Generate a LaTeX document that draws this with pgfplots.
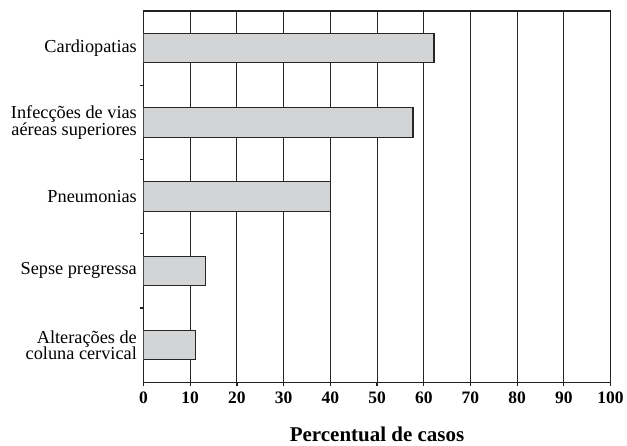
\documentclass[border=0pt]{standalone}
\usepackage{pgfplots}
\pgfplotsset{compat=1.18}
\usepackage{fontspec}
\setmainfont{Liberation Serif}
\definecolor{barfill}{HTML}{D3D4D6}
\definecolor{axisgray}{HTML}{222222}
\begin{document}
\begin{tikzpicture}
\begin{axis}[
  scale only axis,
  width=467.6bp, height=371.7bp,
  xbar, bar width=29.5bp,
  xmin=0, xmax=100, ymin=-0.5, ymax=4.5,
  xtick={0,10,...,100},
  xtick pos=bottom, ytick pos=left,
  xmajorgrids,
  grid style={draw=black!85, line width=0.9bp},
  axis line style={draw=axisgray, line width=1.4bp},
  tick style={draw=axisgray, line width=1.2bp},
  tick align=outside,
  major tick length=4bp,
  ytick={0.5,1.5,2.5,3.5},
  yticklabels={},
  extra y ticks={0,1,2,3,4},
  extra y tick labels={{Alterações de\\coluna cervical},{Sepse pregressa},{Pneumonias},{Infecções de vias\\aéreas superiores},{Cardiopatias}},
  extra y tick style={major tick length=0pt, yticklabel style={align=right, font=\fontsize{18.3bp}{16.7bp}\selectfont, inner xsep=0pt, xshift=-6.5bp}},
  xticklabel style={font=\bfseries\fontsize{17.5bp}{18bp}\selectfont, yshift=-2bp},
  /pgf/number format/assume math mode=true,
  xlabel={\bfseries\fontsize{21bp}{24bp}\selectfont Percentual de casos},
  xlabel style={yshift=-17bp},
]
\addplot[fill=barfill, draw=black!85, line width=1.1bp] coordinates {
  (11.1,0) (13.3,1) (40.0,2) (57.7,3) (62.2,4)
};
\end{axis}
\path ([shift={(-143.7bp,-63.3bp)}]current axis.south west) rectangle ([shift={(15.7bp,11bp)}]current axis.north east);
\end{tikzpicture}
\end{document}
